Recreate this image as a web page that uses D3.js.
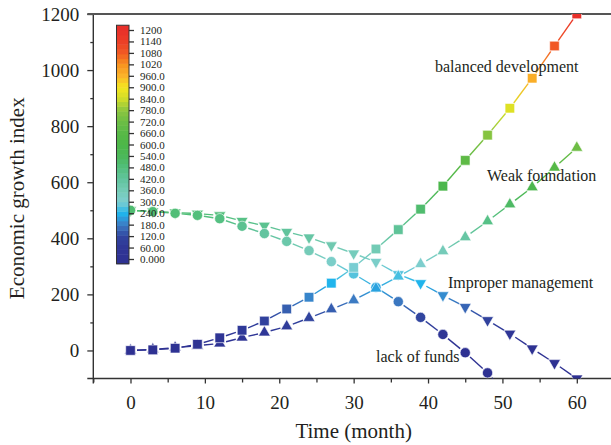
<!DOCTYPE html>
<html>
<head>
<meta charset="utf-8">
<script src="https://cdn.jsdelivr.net/npm/d3@7"></script>
<style>
    body { margin: 0; background: #fff; }
    svg text { font-family: "Liberation Serif", "Times New Roman", serif; fill: #231f20; }
    .axis path, .axis line { stroke: #333; stroke-width: 1.3; }
</style>
</head>
<body>
<div id="chart"></div>
<script>
// ---- data ----
const months = [0, 3, 6, 9, 12, 15, 18, 21, 24, 27, 30, 33, 36, 39, 42, 45, 48, 51, 54, 57, 60];

const balancedDevelopment = [0, 2, 8, 22, 45, 72, 105, 148, 190, 240, 296, 362, 431, 504, 586, 678, 768, 864, 971, 1086, 1200];
const weakFoundation      = [0, 4, 10, 17, 25, 46, 64, 86, 116, 147, 179, 221, 264, 308, 354, 404, 461, 521, 582, 652, 723];
const improperManagement  = [500, 496, 492, 488, 482, 462, 445, 423, 403, 375, 346, 316, 272, 240, 197, 155, 108, 60, 7, -45, -100];
const lackOfFunds         = [500, 495, 489, 482, 470, 443, 417, 389, 356, 317, 273, 225, 174, 118, 57, -8, -80, -170];

const xTicks = [0, 10, 20, 30, 40, 50, 60];
const xMinorTicks = [-5, 5, 15, 25, 35, 45, 55, 65];
const yTicks = [0, 200, 400, 600, 800, 1000, 1200];
const yMinorTicks = [100, 300, 500, 700, 900, 1100];

const cbTicks = [0, 60, 120, 180, 240, 300, 360, 420, 480, 540, 600, 660, 720, 780, 840, 900, 960, 1020, 1080, 1140, 1200];
const cbLabels = ['0.000', '60.00', '120.0', '180.0', '240.0', '300.0', '360.0', '420.0', '480.0', '540.0', '600.0',
                  '660.0', '720.0', '780.0', '840.0', '900.0', '960.0', '1020', '1080', '1140', '1200'];
const cbColors = ['#2e3192', '#2f3696', '#31459f', '#3c7cc4', '#20b4ec', '#7ecfd0', '#74cbb6', '#62c49e', '#52bf7c',
                  '#4cb85a', '#4cb748', '#58b947', '#6cbd45', '#8cc63f', '#cfdd2a', '#f4e61e', '#fbb42a', '#f7931e',
                  '#f15a24', '#ec3f26', '#e8302a'];

const W = 611, H = 445;
const GAP = 6.5; // line gap round each marker

const svg = d3.select('#chart').append('svg')
    .attr('width', W)
    .attr('height', H);

const defs = svg.append('defs');

const x = d3.scaleLinear().domain([-5, 65]).range([93.3, 614]);
const y = d3.scaleLinear().domain([-100, 1200]).range([378.5, 14]);
const color = d3.scaleLinear().domain(cbTicks).range(cbColors).clamp(true);

defs.append('clipPath').attr('id', 'plotClip')
    .append('rect')
    .attr('x', x(-5)).attr('y', y(1200))
    .attr('width', W - x(-5)).attr('height', y(-100) - y(1200));

// ---- axes ----
const yAxis = svg.append('g').attr('class', 'axis')
    .attr('transform', `translate(${x(-5)},0)`)
    .call(d3.axisLeft(y).tickValues(yTicks).tickSize(6).tickPadding(8).tickSizeOuter(0)
        .tickFormat(d3.format('d')));
yAxis.selectAll('text').style('font-size', '19px');
yAxis.select('.domain').remove();
svg.append('g').attr('class', 'axis')
    .attr('transform', `translate(${x(-5)},0)`)
    .call(d3.axisLeft(y).tickValues(yMinorTicks).tickSize(3).tickFormat(''))
    .select('.domain').remove();

const xAxis = svg.append('g').attr('class', 'axis')
    .attr('transform', `translate(0,${y(-100)})`)
    .call(d3.axisBottom(x).tickValues(xTicks).tickSize(5).tickPadding(12).tickSizeOuter(0)
        .tickFormat(d3.format('d')));
xAxis.selectAll('text').style('font-size', '19px');
xAxis.select('.domain').remove();
svg.append('g').attr('class', 'axis')
    .attr('transform', `translate(0,${y(-100)})`)
    .call(d3.axisBottom(x).tickValues(xMinorTicks).tickSize(4).tickFormat(''))
    .select('.domain').remove();

// frame lines
svg.append('line').attr('x1', x(-5)).attr('x2', x(-5)).attr('y1', y(1200)).attr('y2', y(-100) + 5)
    .attr('stroke', '#333').attr('stroke-width', 1.4);
svg.append('line').attr('x1', x(-5) - 6).attr('x2', W).attr('y1', y(-100)).attr('y2', y(-100))
    .attr('stroke', '#333').attr('stroke-width', 1.4);
svg.append('line').attr('x1', x(-5) - 6).attr('x2', W).attr('y1', y(1200)).attr('y2', y(1200))
    .attr('stroke', '#555').attr('stroke-width', 2);

// axis titles
svg.append('text')
    .attr('transform', `translate(24,${(y(1200) + y(-100)) / 2 + 2}) rotate(-90)`)
    .attr('text-anchor', 'middle')
    .style('font-size', '21px')
    .text('Economic growth index');

svg.append('text')
    .attr('x', x(30))
    .attr('y', 438)
    .attr('text-anchor', 'middle')
    .style('font-size', '21px')
    .text('Time (month)');

// ---- series ----
const series = [
    { values: improperManagement, shape: 'down' },
    { values: lackOfFunds, shape: 'circle' },
    { values: weakFoundation, shape: 'up' },
    { values: balancedDevelopment, shape: 'square' }
];

const symbols = {
    square: d3.symbol().type(d3.symbolSquare).size(92),
    circle: d3.symbol().type(d3.symbolCircle).size(82),
    up: d3.symbol().type(d3.symbolTriangle).size(62),
    down: d3.symbol().type(d3.symbolTriangle).size(62)
};

const plot = svg.append('g').attr('clip-path', 'url(#plotClip)');
const lineLayer = plot.append('g');
const markLayer = plot.append('g');

series.forEach((s, si) => {
    const pts = s.values.map((v, i) => ({ px: x(months[i]), py: y(v), v: v }));

    // line segments, gapped at the markers, coloured along the value
    for (let i = 0; i < pts.length - 1; i++) {
        const a = pts[i], b = pts[i + 1];
        const dx = b.px - a.px, dy = b.py - a.py;
        const len = Math.hypot(dx, dy);
        if (len <= 2 * GAP) continue;
        const ux = dx / len, uy = dy / len;
        const id = `seg${si}_${i}`;
        const grad = defs.append('linearGradient')
            .attr('id', id)
            .attr('gradientUnits', 'userSpaceOnUse')
            .attr('x1', a.px).attr('y1', a.py)
            .attr('x2', b.px).attr('y2', b.py);
        grad.append('stop').attr('offset', 0).attr('stop-color', color(a.v));
        grad.append('stop').attr('offset', 1).attr('stop-color', color(b.v));

        lineLayer.append('line')
            .attr('x1', a.px + ux * GAP).attr('y1', a.py + uy * GAP)
            .attr('x2', b.px - ux * GAP).attr('y2', b.py - uy * GAP)
            .attr('stroke', `url(#${id})`)
            .attr('stroke-width', 1.4);
    }

    markLayer.append('g')
        .selectAll('path')
        .data(pts)
        .enter()
        .append('path')
        .attr('d', symbols[s.shape])
        .attr('transform', d => `translate(${d.px},${d.py})` + (s.shape === 'down' ? ' rotate(180)' : ''))
        .attr('fill', d => color(d.v))
        .attr('stroke', '#fff')
        .attr('stroke-width', 0.6);
});

// ---- series labels ----
const labels = [
    { text: 'balanced development', px: 435, py: 72 },
    { text: 'Weak foundation', px: 487, py: 181 },
    { text: 'Improper management', px: 448, py: 288 },
    { text: 'lack of funds', px: 376, py: 362 }
];
svg.append('g').selectAll('text')
    .data(labels)
    .enter()
    .append('text')
    .attr('x', d => d.px)
    .attr('y', d => d.py)
    .style('font-size', '16px')
    .text(d => d.text);

// ---- colour bar ----
const cbY = d3.scaleLinear().domain([0, 1200]).range([259, 30]);
const cbX = 116.5, cbW = 12.5;
const cbBands = d3.range(-25, 1225, 25);

const cb = svg.append('g');
cb.selectAll('rect.band')
    .data(cbBands)
    .enter()
    .append('rect')
    .attr('class', 'band')
    .attr('x', cbX)
    .attr('y', d => cbY(d + 25))
    .attr('width', cbW)
    .attr('height', d => cbY(d) - cbY(d + 25) + 0.5)
    .attr('fill', d => color(d + 12.5));

cb.append('rect')
    .attr('x', cbX).attr('y', cbY(1225))
    .attr('width', cbW).attr('height', cbY(-25) - cbY(1225))
    .attr('fill', 'none')
    .attr('stroke', '#333')
    .attr('stroke-width', 1);

const cbAxis = cb.append('g').attr('class', 'axis')
    .attr('transform', `translate(${cbX + cbW},0)`)
    .call(d3.axisRight(cbY).tickValues(cbTicks).tickSize(5).tickPadding(6)
        .tickFormat((d, i) => cbLabels[i]));
cbAxis.select('.domain').remove();
cbAxis.selectAll('line').attr('stroke-width', 1.1);
cbAxis.selectAll('text').style('font-size', '11px');
</script>
</body>
</html>
